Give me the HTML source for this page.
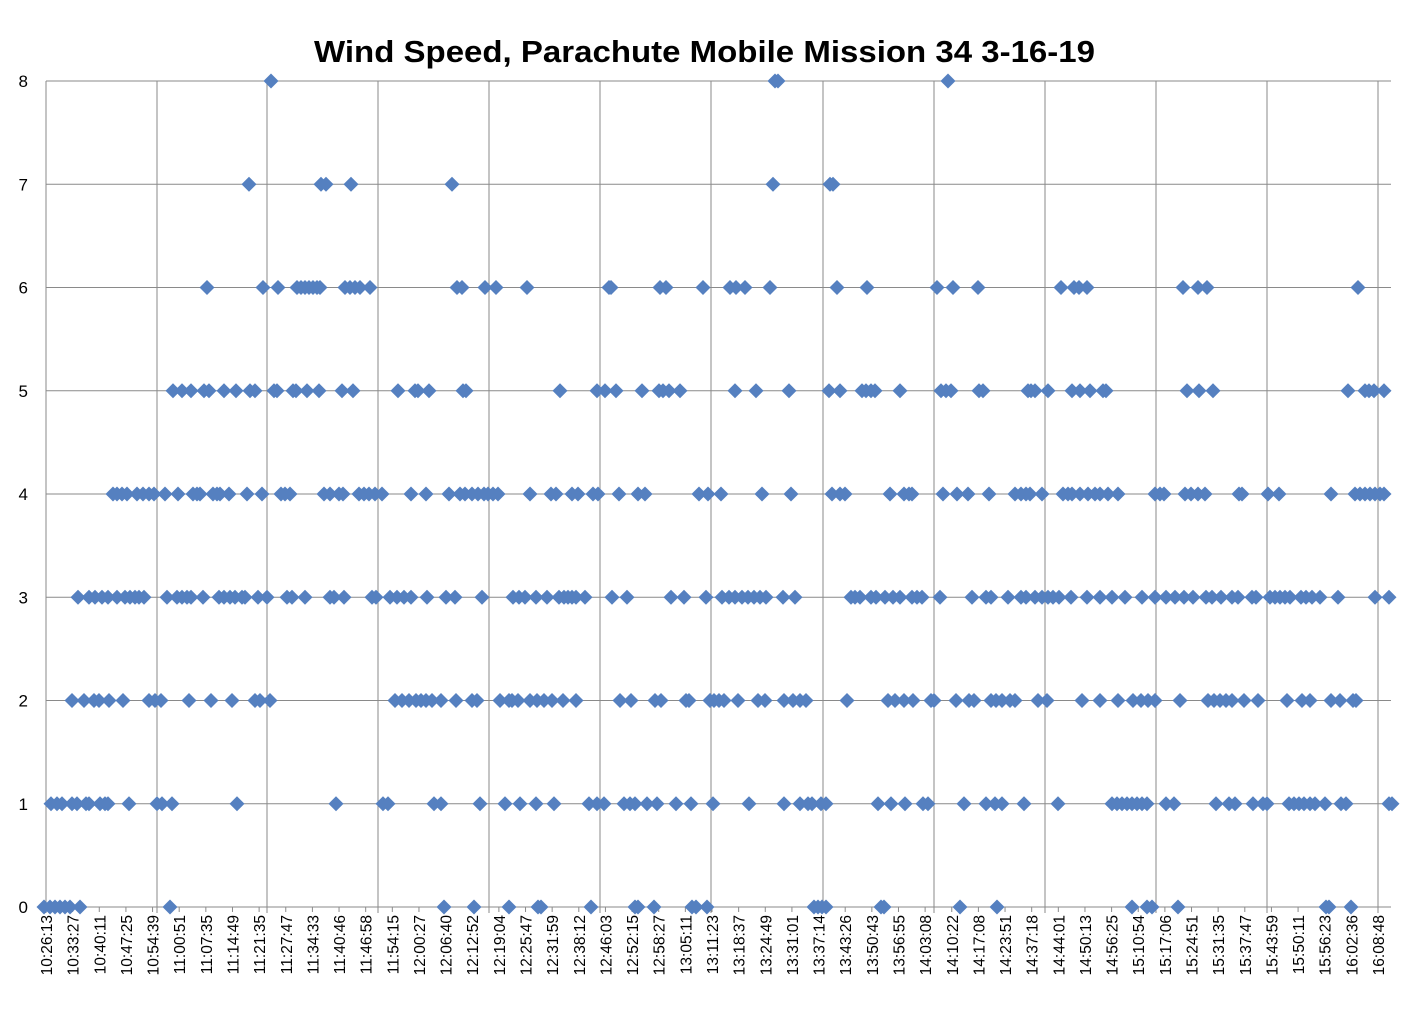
<!DOCTYPE html>
<html><head><meta charset="utf-8"><style>
html,body{margin:0;padding:0;background:#fff;}
svg{display:block;font-family:"Liberation Sans",sans-serif;}
</style></head><body>
<svg id="c" width="1407" height="1017" xmlns="http://www.w3.org/2000/svg">
<text x="314" y="62" textLength="781" lengthAdjust="spacingAndGlyphs" font-size="31" font-weight="bold" fill="#000">Wind Speed, Parachute Mobile Mission 34 3-16-19</text>
<g id="grid" stroke="#8a8a8a" stroke-width="1"></g>
<g id="lab" font-size="17" fill="#000"></g>
<g id="pts" fill="#5580C0"></g>
</svg>
<script>
var NS="http://www.w3.org/2000/svg";
function el(p,t,a,txt){var e=document.createElementNS(NS,t);for(var k in a)e.setAttribute(k,a[k]);if(txt!=null)e.textContent=txt;p.appendChild(e);return e;}
var g=document.getElementById('grid'),L=document.getElementById('lab'),P=document.getElementById('pts');
var x0=46,x1=1391,yb=907,u=103.25;
for(var i=0;i<=8;i++){var y=yb-i*u;el(g,'line',{x1:x0,x2:x1,y1:y,y2:y});el(L,'text',{x:28,y:y+6,'text-anchor':'end'},String(i));}
var vx=[46,157,267,378,489,600,711,823,934,1045,1156,1267,1378];
vx.forEach(function(x){el(g,'line',{x1:x,x2:x,y1:81,y2:yb+6});});
var labs="10:26:13,10:33:27,10:40:11,10:47:25,10:54:39,11:00:51,11:07:35,11:14:49,11:21:35,11:27:47,11:34:33,11:40:46,11:46:58,11:54:15,12:00:27,12:06:40,12:12:52,12:19:04,12:25:47,12:31:59,12:38:12,12:46:03,12:52:15,12:58:27,13:05:11,13:11:23,13:18:37,13:24:49,13:31:01,13:37:14,13:43:26,13:50:43,13:56:55,14:03:08,14:10:22,14:17:08,14:23:51,14:37:18,14:44:01,14:50:13,14:56:25,15:10:54,15:17:06,15:24:51,15:31:35,15:37:47,15:43:59,15:50:11,15:56:23,16:02:36,16:08:48".split(",");
var n=labs.length;
labs.forEach(function(s,i){var x=46+i*(1378-46)/(n-1);
 el(g,'line',{x1:x,x2:x,y1:yb,y2:yb+5});
 el(L,'text',{transform:'translate('+(x+6)+',915) rotate(-90)','text-anchor':'end','font-size':'15.5'},s);});
var rows={
8:[271,775,778,948],
7:[249,321,326,351,452,773,830,833],
6:[207,263,278,297,301,305,309,313,317,320,345,350,355,360,370,457,462,485,496,527,609,611,660,666,703,730,736,745,770,837,867,937,953,978,1061,1074,1079,1087,1183,1198,1207,1358],
5:[173,182,191,204,209,224,236,250,255,274,277,293,296,307,319,342,353,398,415,418,429,463,466,560,597,605,616,642,659,663,669,680,735,756,789,829,840,862,866,871,875,900,941,946,951,979,983,1028,1031,1035,1048,1072,1080,1090,1103,1106,1187,1199,1213,1348,1365,1369,1374,1384],
4:[113,117,122,127,137,143,149,154,165,178,193,197,200,213,217,220,229,247,262,281,285,290,324,330,339,343,359,364,369,375,382,411,426,449,460,465,472,478,484,488,493,498,530,551,556,572,578,593,598,619,638,645,699,708,721,762,791,832,840,845,890,904,909,912,943,957,968,989,1015,1021,1026,1030,1042,1063,1068,1072,1080,1088,1095,1100,1108,1118,1155,1160,1164,1185,1191,1198,1205,1239,1242,1268,1279,1331,1355,1360,1365,1370,1375,1380,1384],
3:[78,89,95,102,108,117,125,130,135,139,144,167,177,182,187,191,203,219,224,230,235,242,245,258,267,287,292,305,330,334,344,372,376,390,397,404,411,427,446,455,482,513,519,525,536,547,559,564,568,572,576,585,612,627,671,684,706,722,729,735,742,748,754,760,766,783,795,851,855,860,871,876,885,893,900,912,917,922,940,972,986,991,1008,1021,1026,1035,1042,1048,1053,1059,1071,1087,1100,1112,1125,1142,1155,1166,1175,1184,1193,1206,1212,1221,1232,1238,1252,1256,1270,1275,1280,1285,1290,1301,1306,1312,1320,1338,1375,1389],
2:[72,84,94,99,109,123,149,155,161,189,211,232,255,260,270,395,402,409,416,421,426,432,441,456,472,477,500,509,512,518,530,537,544,552,563,576,620,631,655,661,686,689,710,714,719,724,738,758,765,784,793,800,806,847,888,895,904,913,931,934,956,969,974,991,996,1002,1010,1015,1038,1047,1082,1100,1118,1133,1141,1148,1155,1180,1208,1214,1220,1226,1232,1244,1258,1287,1302,1310,1331,1340,1353,1356],
1:[51,57,62,72,77,86,89,100,105,108,129,157,162,172,237,336,383,388,434,441,480,505,520,536,554,589,597,604,624,630,635,647,657,676,691,713,749,784,800,808,812,821,826,878,891,905,923,928,964,986,995,1002,1024,1058,1112,1117,1122,1127,1132,1137,1142,1147,1166,1174,1216,1229,1235,1253,1263,1267,1289,1294,1299,1304,1310,1315,1325,1341,1346,1389,1392],
0:[44,50,55,60,65,70,80,170,444,474,509,538,541,591,635,638,654,692,696,707,814,818,822,826,881,884,960,997,1132,1147,1152,1178,1326,1329,1351]};
var h=7.5;
for(var v in rows){var y=yb-v*u;rows[v].forEach(function(x){
 el(P,'polygon',{points:x+','+(y-h)+' '+(x+h)+','+y+' '+x+','+(y+h)+' '+(x-h)+','+y});});}
</script>
</body></html>
